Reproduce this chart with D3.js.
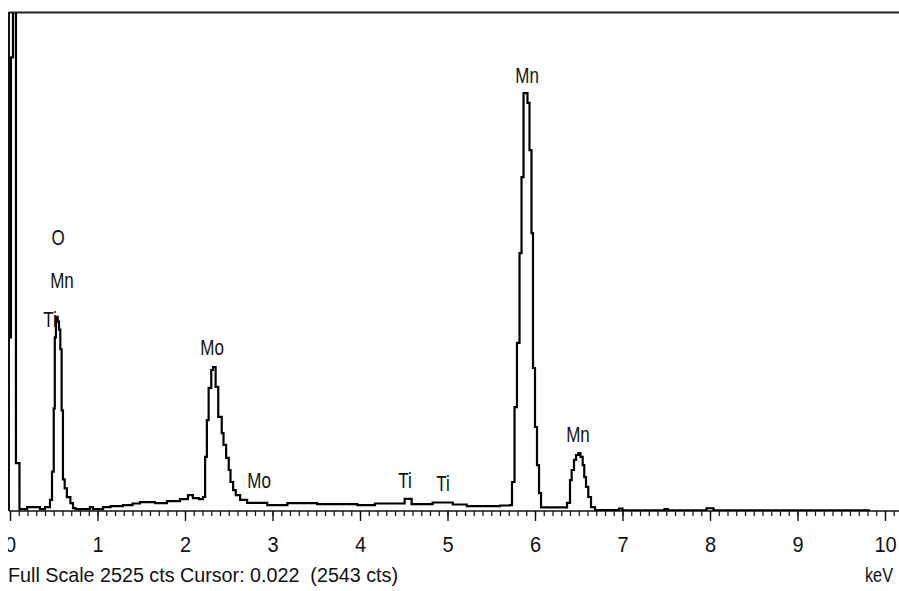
<!DOCTYPE html>
<html>
<head>
<meta charset="utf-8">
<script src="https://cdn.jsdelivr.net/npm/d3@7"></script>
<style>
    body { margin: 0; background: #fff; }
    svg { display: block; }
    text { font-family: "Liberation Sans", Arial, sans-serif; fill: #111; }
</style>
</head>
<body>
<div id="view"></div>
<script>
// spectrum, step points (keV, counts)
const energy = [
    0.000, 0.011, 0.034, 0.068, 0.108, 0.195, 0.343, 0.400, 0.457, 0.480,
    0.500, 0.512, 0.525, 0.545, 0.560, 0.575, 0.590, 0.605, 0.625, 0.650,
    0.690, 0.720, 0.750, 0.914, 0.949, 1.063, 1.150, 1.290, 1.400, 1.486,
    1.657, 1.794, 1.943, 2.034, 2.090, 2.160, 2.206, 2.230, 2.250, 2.270,
    2.300, 2.320, 2.350, 2.380, 2.420, 2.440, 2.470, 2.500, 2.520, 2.550,
    2.580, 2.630, 2.710, 2.940, 3.170, 3.510, 3.970, 4.170, 4.400, 4.510,
    4.590, 4.830, 5.060, 5.220, 5.600, 5.714, 5.737, 5.766, 5.794, 5.823,
    5.846, 5.869, 5.914, 5.937, 5.960, 5.977, 6.000, 6.023, 6.046, 6.069,
    6.366, 6.400, 6.419, 6.446, 6.469, 6.495, 6.520, 6.545, 6.563, 6.583,
    6.609, 6.640, 6.686, 6.960, 7.000, 7.480, 7.520, 7.960, 8.040, 9.830
];
const counts = [
    880, 2300, 3000, 243, 10, 20, 10, 20, 56, 200,
    520, 880, 985, 960, 920, 820, 510, 160, 115, 70,
    40, 15, 10, 20, 10, 20, 25, 30, 38, 45,
    40, 50, 60, 80, 65, 60, 71, 274, 461, 624,
    715, 730, 629, 477, 395, 335, 269, 208, 147, 106,
    81, 56, 41, 30, 40, 35, 30, 38, 38, 61,
    35, 43, 33, 25, 28, 30, 147, 527, 852, 1308,
    1693, 2119, 2069, 1830, 1409, 725, 426, 233, 91, 18,
    41, 157, 208, 259, 284, 294, 274, 233, 172, 122,
    71, 20, 5, 12, 3, 10, 3, 14, 3, 3
];

// peak labels
const labelText = ["O", "Mn", "Ti", "Mo", "Mo", "Ti", "Ti", "Mn", "Mn"];
const labelKeV = [0.550, 0.594, 0.457, 2.310, 2.846, 4.514, 4.949, 5.909, 6.491];
const labelCts = [1349, 1131, 933, 791, 117, 117, 101, 2170, 350];

const tickLabels = ["0", "1", "2", "3", "4", "5", "6", "7", "8", "9", "10"];
const fullScale = 2525;
const footer = "Full Scale 2525 cts Cursor: 0.022  (2543 cts)";

const width = 899;
const height = 591;
const margin = {top: 13, left: 10, bottom: 80};

const svg = d3.select("#view")
    .append("svg")
        .attr("width", width)
        .attr("height", height);

svg.append("defs").append("clipPath")
        .attr("id", "page")
    .append("rect")
        .attr("x", 8).attr("y", 0)
        .attr("width", width - 8).attr("height", height);
svg.select("defs").append("clipPath")
        .attr("id", "plot")
    .append("rect")
        .attr("x", margin.left).attr("y", margin.top)
        .attr("width", width - margin.left).attr("height", height - margin.bottom - margin.top);

const g = svg.append("g").attr("clip-path", "url(#page)");

const x = d3.scaleLinear().domain([0, 10]).range([margin.left, 885]);
const y = d3.scaleLinear().domain([0, fullScale]).range([height - margin.bottom, margin.top]);
const base = y(0);

// minor ticks every 0.1 keV
g.append("g")
    .attr("transform", `translate(0, ${base})`)
    .call(d3.axisBottom(x).tickValues(d3.range(0, 10.25, 0.1)).tickSize(5).tickFormat(""))
    .call(a => a.select(".domain").remove())
    .call(a => a.selectAll("line").attr("stroke", "#111").attr("stroke-width", 1.2));

// major ticks with labels
g.append("g")
    .attr("transform", `translate(0, ${base})`)
    .call(d3.axisBottom(x).tickValues(d3.range(0, 11)).tickSize(10).tickPadding(13)
        .tickFormat(d => tickLabels[d]))
    .call(a => a.select(".domain").remove())
    .call(a => a.selectAll("line").attr("stroke", "#111").attr("stroke-width", 1.4))
    .call(a => a.selectAll("text")
        .attr("font-size", 20)
        .attr("fill", "#111")
        .attr("transform", "scale(1, 1.1)")
        .attr("font-family", "Liberation Sans, Arial, sans-serif"));

// frame: top and left, axis line
g.append("line")
    .attr("x1", 9).attr("x2", width).attr("y1", 12.5).attr("y2", 12.5)
    .attr("stroke", "#222").attr("stroke-width", 2);
g.append("line")
    .attr("x1", 9).attr("x2", 9).attr("y1", 12).attr("y2", base)
    .attr("stroke", "#111").attr("stroke-width", 2);
g.append("line")
    .attr("x1", 9).attr("x2", width).attr("y1", base).attr("y2", base)
    .attr("stroke", "#111").attr("stroke-width", 1.6);

// spectrum
const pts = energy.map((e, i) => [e, counts[i]]);
g.append("path")
    .datum(pts)
    .attr("clip-path", "url(#plot)")
    .attr("fill", "none")
    .attr("stroke", "#000")
    .attr("stroke-width", 2.2)
    .attr("d", d3.line()
        .x(d => x(d[0]))
        .y(d => y(d[1]))
        .curve(d3.curveStepAfter));

// peak labels
g.selectAll(".peak")
    .data(labelText)
    .join("text")
        .attr("class", "peak")
        .attr("text-anchor", "middle")
        .attr("font-size", 17)
        .attr("transform", (d, i) => `translate(${x(labelKeV[i])}, ${y(labelCts[i])}) scale(1, 1.25)`)
        .text(d => d);

// footer
g.append("text")
    .attr("transform", "translate(8, 582) scale(1, 1.15)")
    .attr("font-size", 18)
    .attr("textLength", 390)
    .attr("lengthAdjust", "spacingAndGlyphs")
    .style("white-space", "pre")
    .text(footer);
g.append("text")
    .attr("transform", "translate(865, 582) scale(1, 1.15)")
    .attr("font-size", 18)
    .attr("textLength", 28)
    .attr("lengthAdjust", "spacingAndGlyphs")
    .text("keV");
</script>
</body>
</html>
